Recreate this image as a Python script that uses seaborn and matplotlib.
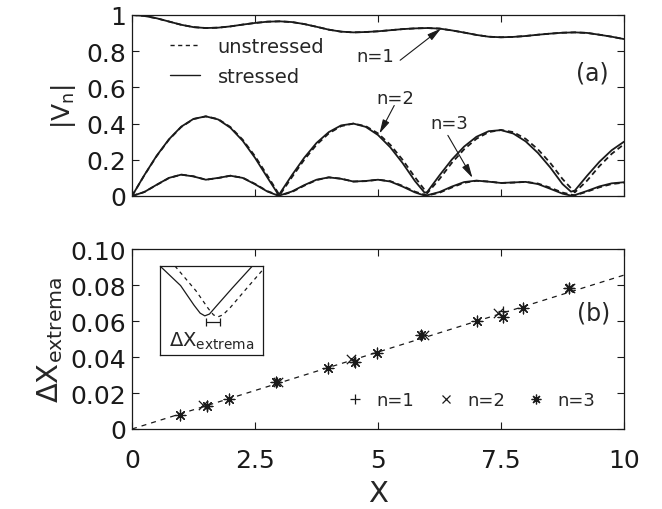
import numpy as np
import pandas as pd
import matplotlib
matplotlib.use("Agg")
import matplotlib.pyplot as plt
from matplotlib.lines import Line2D
import seaborn as sns

# ---------------- data ----------------
# sampling grid for the unstressed curves
x_grid = [0.0, 0.25, 0.5, 0.75, 1.0, 1.25, 1.5, 1.75, 2.0, 2.25, 2.5, 2.75, 3.0,
          3.25, 3.5, 3.75, 4.0, 4.25, 4.5, 4.75, 5.0, 5.25, 5.5, 5.75, 6.0,
          6.25, 6.5, 6.75, 7.0, 7.25, 7.5, 7.75, 8.0, 8.25, 8.5, 8.75, 9.0,
          9.25, 9.5, 9.75, 10.0]

# n = 1
v1_stressed = [1.0, .995, .982, .964, .946, .933, .928, .930, .937, .947, .956, .963, .965,
               .961, .950, .935, .919, .908, .904, .906, .910, .916, .922, .926, .928,
               .925, .915, .903, .890, .880, .877, .879, .884, .891, .897, .902, .904,
               .901, .891, .880, .867]
v1_unstressed = [1.0, .995, .982, .964, .946, .933, .928, .930, .937, .947, .956, .963, .965,
                 .961, .950, .935, .919, .908, .904, .906, .910, .916, .922, .926, .928,
                 .925, .915, .903, .890, .880, .877, .879, .884, .891, .897, .902, .904,
                 .901, .891, .880, .867]

# n = 2
v2_unstressed = [0.0, .114, .220, .311, .381, .425, .440, .425, .381, .311, .220, .114, .004,
                 .104, .200, .283, .346, .386, .400, .386, .346, .283, .200, .104, .015,
                 .094, .183, .258, .316, .353, .365, .353, .316, .258, .183, .094, .020,
                 .085, .165, .233, .286]
x2_stressed = [0.0, 0.25, 0.5, 0.75, 1.0, 1.25, 1.5, 1.75, 2.0, 2.25, 2.5, 2.75, 2.974, 3.0,
               3.25, 3.5, 3.75, 4.0, 4.25, 4.5, 4.75, 5.0, 5.25, 5.5, 5.75, 5.948, 6.0,
               6.25, 6.5, 6.75, 7.0, 7.25, 7.5, 7.75, 8.0, 8.25, 8.5, 8.75, 8.922, 9.0,
               9.25, 9.5, 9.75, 10.0]
v2_stressed = [0.0, .115, .222, .313, .383, .426, .440, .423, .377, .305, .211, .103, .008, .012,
               .115, .211, .293, .353, .390, .400, .382, .337, .269, .182, .083, .018, .022,
               .114, .201, .273, .327, .358, .364, .345, .302, .238, .158, .066, .024, .030,
               .112, .189, .253, .300]

# n = 3
v3_unstressed = [0.0, .022, .061, .099, .118, .109, .090, .099, .112, .101, .067, .027, .002,
                 .022, .057, .088, .103, .096, .080, .082, .090, .082, .056, .024, .003,
                 .018, .047, .073, .084, .080, .072, .074, .078, .069, .046, .019, .003,
                 .024, .048, .066, .074]
x3_stressed = [0.0, 0.25, 0.5, 0.75, 1.0, 1.25, 1.5, 1.75, 2.0, 2.25, 2.5, 2.75, 2.97, 3.0,
               3.25, 3.5, 3.75, 4.0, 4.25, 4.5, 4.75, 5.0, 5.25, 5.5, 5.75, 5.94, 6.0,
               6.25, 6.5, 6.75, 7.0, 7.25, 7.5, 7.75, 8.0, 8.25, 8.5, 8.75, 8.91, 9.0,
               9.25, 9.5, 9.75, 10.0]
v3_stressed = [0.0, .022, .062, .100, .118, .108, .090, .100, .112, .100, .065, .025, .002, .003,
               .025, .060, .090, .103, .095, .080, .083, .090, .080, .052, .020, .003, .004,
               .022, .052, .077, .085, .079, .072, .075, .078, .066, .040, .013, .003, .005,
               .028, .053, .070, .076]

# shift of the extrema
ext_x_n1 = [1.52, 2.95, 4.52, 5.90, 7.55, 8.88]
ext_y_n1 = [0.0130, 0.0259, 0.0375, 0.0522, 0.0654, 0.0783]
ext_x_n2 = [1.45, 2.97, 4.45, 5.93, 7.43, 8.90]
ext_y_n2 = [0.0132, 0.0262, 0.0389, 0.0522, 0.0643, 0.0783]
ext_x_n3 = [0.98, 1.53, 1.97, 2.93, 3.99, 4.53, 4.97, 5.88, 7.02, 7.55, 7.95, 8.88]
ext_y_n3 = [0.0080, 0.0130, 0.0167, 0.0259, 0.0339, 0.0370, 0.0420, 0.0522,
            0.0602, 0.0624, 0.0672, 0.0783]
fit_x = [0.0, 10.0]
fit_y = [0.0, 0.0855]

# sketch of a minimum for the inset
inset_solid_x = [0.0, 0.2, 0.33, 0.39, 0.435, 0.48, 0.54, 0.7, 0.897]
inset_solid_y = [1.0, 0.78, 0.56, 0.47, 0.44, 0.46, 0.54, 0.75, 1.0]
inset_dash_x = [0.145, 0.35, 0.47, 0.52, 0.565, 0.61, 0.68, 0.85, 1.0]
inset_dash_y = [1.0, 0.72, 0.52, 0.45, 0.43, 0.45, 0.53, 0.76, 0.96]
inset_bar = (0.516, 0.366, 0.071)   # centre x, y, half-width

x_ticks = [0, 2.5, 5, 7.5, 10]
x_ticklabels = ["0", "2.5", "5", "7.5", "10"]
top_yticks = [0, 0.2, 0.4, 0.6, 0.8, 1.0]
top_yticklabels = ["0", "0.2", "0.4", "0.6", "0.8", "1"]
bot_yticks = [0, 0.02, 0.04, 0.06, 0.08, 0.10]
bot_yticklabels = ["0", "0.02", "0.04", "0.06", "0.08", "0.10"]

# ---------------- style ----------------
sns.set_theme(style="ticks")
plt.rcParams["font.family"] = ["DejaVu Sans"]
plt.rcParams["mathtext.fontset"] = "dejavusans"
plt.rcParams["axes.linewidth"] = 0.9

W, H = 662, 510
fig = plt.figure(figsize=(W / 100, H / 100), dpi=100)
ax1 = fig.add_axes([132 / W, 1 - 197 / H, 492 / W, 181 / H])
ax2 = fig.add_axes([132 / W, 1 - 430 / H, 492 / W, 180 / H])

LW = 1.3
DASH = (3.0, 2.0)

# ---------------- panel (a) ----------------
for yv in (v1_unstressed, v2_unstressed, v3_unstressed):
    sns.lineplot(x=x_grid, y=yv, ax=ax1, color="k", lw=LW, linestyle="--", sort=False)
    ax1.lines[-1].set_dashes(DASH)
for xv, yv in ((x_grid, v1_stressed), (x2_stressed, v2_stressed), (x3_stressed, v3_stressed)):
    sns.lineplot(x=xv, y=yv, ax=ax1, color="k", lw=LW, sort=False)

ax1.set_xlim(0, 10)
ax1.set_ylim(0, 1)
ax1.set_xticks(x_ticks)
ax1.set_xticklabels([])
ax1.set_yticks(top_yticks)
ax1.set_yticklabels(top_yticklabels)
ax1.set_ylabel(r"|V$_\mathrm{n}$|", fontsize=18, labelpad=6)

leg_handles = [Line2D([], [], color="k", lw=1.0, linestyle="--", dashes=(3, 2.5)),
               Line2D([], [], color="k", lw=1.0)]
ax1.legend(leg_handles, ["unstressed", "stressed"], loc="upper left",
           bbox_to_anchor=(0.077, 0.878), frameon=False, fontsize=14,
           handlelength=1.55, handletextpad=0.9, labelspacing=0.55,
           borderpad=0, borderaxespad=0)

arrow = dict(arrowstyle="-|>,head_length=0.7,head_width=0.18", color="k", lw=0.8,
             shrinkA=0, shrinkB=0)
ax1.text(4.94, 0.773, "n=1", fontsize=13, ha="center", va="center")
ax1.annotate("", xy=(6.28, 0.925), xytext=(5.45, 0.75), arrowprops=arrow)
ax1.text(5.35, 0.54, "n=2", fontsize=13, ha="center", va="center")
ax1.annotate("", xy=(5.03, 0.345), xytext=(5.33, 0.50), arrowprops=arrow)
ax1.text(6.45, 0.405, "n=3", fontsize=13, ha="center", va="center")
ax1.annotate("", xy=(6.92, 0.10), xytext=(6.42, 0.335), arrowprops=arrow)
ax1.text(9.35, 0.685, "(a)", fontsize=17, ha="center", va="center")

# ---------------- panel (b) ----------------
sns.lineplot(x=fit_x, y=fit_y, ax=ax2, color="k", lw=0.9, linestyle="--", sort=False)
ax2.lines[-1].set_dashes((4, 4))
sns.scatterplot(x=ext_x_n1, y=ext_y_n1, ax=ax2, marker="+", color="k", s=55,
                linewidth=0.9, zorder=3)
sns.scatterplot(x=ext_x_n2, y=ext_y_n2, ax=ax2, marker="x", color="k", s=45,
                linewidth=0.9, zorder=3)
sns.scatterplot(x=ext_x_n3, y=ext_y_n3, ax=ax2, marker=(8, 2, 0), color="k",
                edgecolor="k", s=60, linewidth=0.9, zorder=3)

ax2.set_xlim(0, 10)
ax2.set_ylim(0, 0.10)
ax2.set_xticks(x_ticks)
ax2.set_xticklabels(x_ticklabels)
ax2.set_yticks(bot_yticks)
ax2.set_yticklabels(bot_yticklabels)
ax2.set_xlabel("X", fontsize=21)
ax2.xaxis.label.set_va("center")
ax2.xaxis.set_label_coords(0.5, -0.356)
ax2.set_ylabel(r"ΔX$_\mathrm{extrema}$", fontsize=21, labelpad=4)
ax2.text(9.38, 0.065, "(b)", fontsize=17, ha="center", va="center")

mk_handles = [Line2D([], [], color="k", marker="+", linestyle="none", markersize=7, mew=0.9),
              Line2D([], [], color="k", marker="x", linestyle="none", markersize=6, mew=0.9),
              Line2D([], [], color="k", marker=(8, 2, 0), linestyle="none", markersize=7, mew=0.9)]
ax2.legend(mk_handles, ["n=1", "n=2", "n=3"], loc="center left",
           bbox_to_anchor=(0.435, 0.16), ncol=3, frameon=False, fontsize=13,
           handlelength=1.0, handletextpad=0.7, columnspacing=1.22,
           borderpad=0, borderaxespad=0)

for ax in (ax1, ax2):
    ax.tick_params(direction="in", length=5, width=0.8, top=True, right=True,
                   labelsize=18, colors="k")
    ax.tick_params(axis="y", pad=4)
    for sp in ax.spines.values():
        sp.set_visible(True)
        sp.set_color("k")
ax2.tick_params(axis="x", pad=14)

# ---------------- inset ----------------
axi = fig.add_axes([160 / W, 1 - 356 / H, 103 / W, 89 / H])
sns.lineplot(x=inset_solid_x, y=inset_solid_y, ax=axi, color="k", lw=0.9, sort=False)
sns.lineplot(x=inset_dash_x, y=inset_dash_y, ax=axi, color="k", lw=0.9,
             linestyle="--", sort=False)
axi.lines[-1].set_dashes((3, 3))
axi.errorbar([inset_bar[0]], [inset_bar[1]], xerr=[inset_bar[2]], color="k",
             lw=0.9, capsize=3, capthick=0.9)
axi.text(0.5, 0.16, r"ΔX$_\mathrm{extrema}$", fontsize=14, ha="center", va="center",
         transform=axi.transAxes)
axi.set_xlim(0, 1)
axi.set_ylim(0, 1)
axi.set_xticks([])
axi.set_yticks([])
axi.set_xlabel("")
axi.set_ylabel("")
for sp in axi.spines.values():
    sp.set_visible(True)
    sp.set_color("k")
    sp.set_linewidth(0.9)

fig.savefig("out.png", dpi=100)
